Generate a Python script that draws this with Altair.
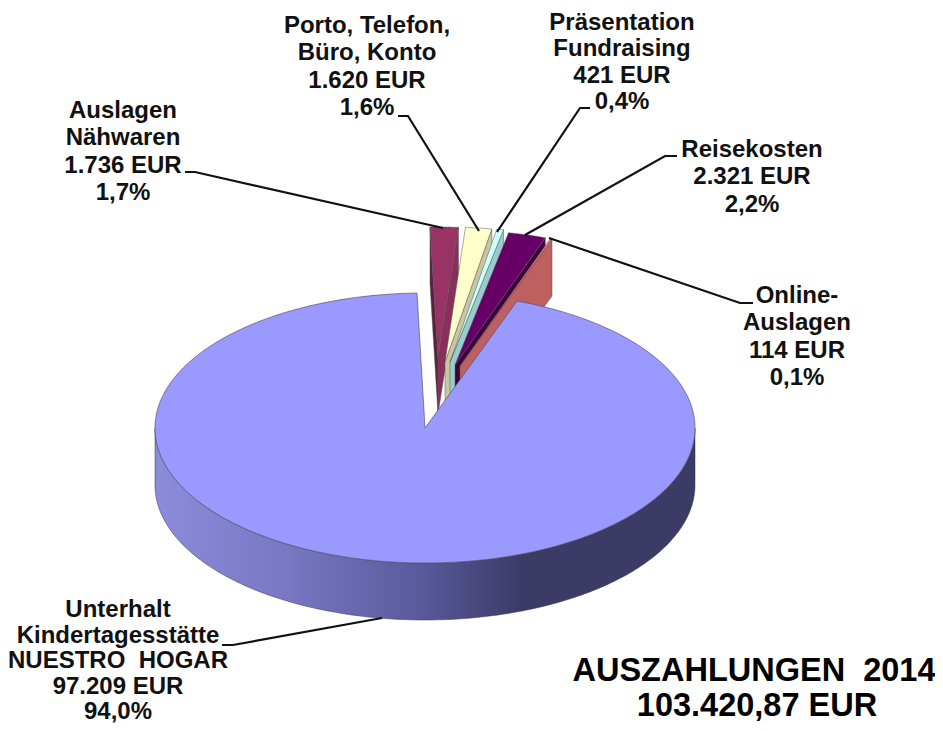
import math
import altair as alt

# ---- data ----
names = [
    ["Auslagen", "Nähwaren"],
    ["Porto, Telefon,", "Büro, Konto"],
    ["Präsentation", "Fundraising"],
    ["Reisekosten"],
    ["Online-", "Auslagen"],
    ["Unterhalt", "Kindertagesstätte", "NUESTRO\u00a0\u00a0HOGAR"],
]
amounts = [1736, 1620, 421, 2321, 114, 97209]
amount_labels = ["1.736 EUR", "1.620 EUR", "421 EUR", "2.321 EUR", "114 EUR", "97.209 EUR"]
percent_labels = ["1,7%", "1,6%", "0,4%", "2,2%", "0,1%", "94,0%"]
title_lines = ["AUSZAHLUNGEN\u00a0\u00a02014", "103.420,87 EUR"]

# ---- styling / layout ----
top_colors = ["#993366", "#FFFFCC", "#CCFFFF", "#660066", "#FF8080", "#9999FF"]
wall_colors = ["#8A2E5C", "#C9C79F", "#99CCCC", "#3D003D", "#BF6060"]
left_wall = "#5C1F3D"
CX, CY, RX, RY, DEPTH = 425, 428, 270, 135, 57
START_DEG = -1.7
tips = [(438, 357), (445, 362), (450, 362), (455, 365), (460, 366)]
expl_ry = [130, 135, 135, 135, 135]
label_x = [123, 367, 622, 752, 797, 118]
label_y = [118, 33, 30, 157, 303, 617]
line_h = [27.4, 27.4, 26.4, 27.4, 27.4, 25.5]
leaders = [
    [(185, 172), (195, 172), (443, 228)],
    [(398, 116), (408, 116), (479, 231)],
    [(590, 108), (580, 108), (497, 232)],
    [(677, 156), (665, 156), (525, 235)],
    [(753, 303), (740, 303), (549, 238)],
    [(222, 645), (233, 645), (382, 618)],
]
title_x, title_y = [754, 757], [681, 716]


def arc(cx, cy, rx, ry, a0, a1, step=1.0):
    n = max(2, int(abs(a1 - a0) / step) + 1)
    pts = []
    for i in range(n + 1):
        a = math.radians(a0 + (a1 - a0) * i / n)
        pts.append([cx + rx * math.sin(a), cy - ry * math.cos(a)])
    return pts


def poly(points, color):
    ring = [list(p) for p in points]
    ring.append(ring[0])
    return {"type": "Feature", "properties": {"c": color},
            "geometry": {"type": "Polygon", "coordinates": [ring]}}


total = sum(amounts)
features = []
angle = START_DEG
for i in range(5):
    sweep = 360 * amounts[i] / total
    tx, ty = tips[i]
    rim = arc(tx, ty, RX, expl_ry[i], angle, angle + sweep, 0.5)
    end = rim[-1]
    start = rim[0]
    if i == 0:  # the left cut face only shows on the slice left of the axis
        features.append(poly([start, [start[0], start[1] + DEPTH], [tx, ty + DEPTH], [tx, ty]], left_wall))
    features.append(poly([[tx, ty], end, [end[0], end[1] + DEPTH], [tx, ty + DEPTH]], wall_colors[i]))
    features.append(poly([[tx, ty]] + rim, top_colors[i]))
    angle += sweep

big_start = angle
big_top = poly([[CX, CY]] + arc(CX, CY, RX, RY, big_start, START_DEG + 360), top_colors[5])
upper = arc(CX, CY, RX, RY, 90, 270)
lower = arc(CX, CY + DEPTH, RX, RY, 270, 90)
big_wall = poly(upper + lower, "wall")

line_features = [
    {"type": "Feature", "properties": {},
     "geometry": {"type": "LineString", "coordinates": [list(p) for p in l]}}
    for l in leaders
]

text_rows = []
for i in range(6):
    lines = names[i] + [amount_labels[i], percent_labels[i]]
    for j, t in enumerate(lines):
        text_rows.append({"t": t, "lon": label_x[i], "lat": label_y[i] + j * line_h[i]})
title_rows = [{"t": t, "lon": x, "lat": y} for t, x, y in zip(title_lines, title_x, title_y)]

proj = alt.Projection(type="identity", scale=1, translate=[-8, -8])


def geo(feats):
    return alt.InlineData(values={"type": "FeatureCollection", "features": feats},
                          format=alt.DataFormat(type="json", property="features"))


small = alt.Chart(geo(features)).mark_geoshape(stroke="#555555", strokeWidth=0.5).encode(
    fill=alt.Fill("properties.c:N", scale=None))
wall = alt.Chart(geo([big_wall])).mark_geoshape(
    stroke="#333355", strokeWidth=0.5,
    fill=alt.Gradient(gradient="linear", x1=0, x2=1, y1=0, y2=0, stops=[
        alt.GradientStop(offset=0, color="#8C8CDC"),
        alt.GradientStop(offset=0.25, color="#7777C2"),
        alt.GradientStop(offset=0.5, color="#58589A"),
        alt.GradientStop(offset=0.68, color="#3B3B66"),
        alt.GradientStop(offset=1, color="#3B3B66"),
    ]))
top = alt.Chart(geo([big_top])).mark_geoshape(stroke="#555566", strokeWidth=0.7, fill=top_colors[5])
lead = alt.Chart(geo(line_features)).mark_geoshape(filled=False, stroke="#111111", strokeWidth=2.2)
labels = alt.Chart(alt.InlineData(values=text_rows)).mark_text(
    font="Liberation Sans", fontWeight="bold", fontSize=24, color="#111111", align="center", baseline="alphabetic"
).encode(longitude="lon:Q", latitude="lat:Q", text="t:N")
titles = alt.Chart(alt.InlineData(values=title_rows)).mark_text(
    font="Liberation Sans", fontWeight="bold", fontSize=32.5, color="#000000", align="center", baseline="alphabetic"
).encode(longitude="lon:Q", latitude="lat:Q", text="t:N")

chart = alt.layer(small, wall, top, lead, labels, titles, projection=proj).properties(
    width=927, height=715, padding=0, background="white"
).configure_view(stroke=None)

chart.save("out.html", embed_options={"renderer": "svg", "actions": False})
